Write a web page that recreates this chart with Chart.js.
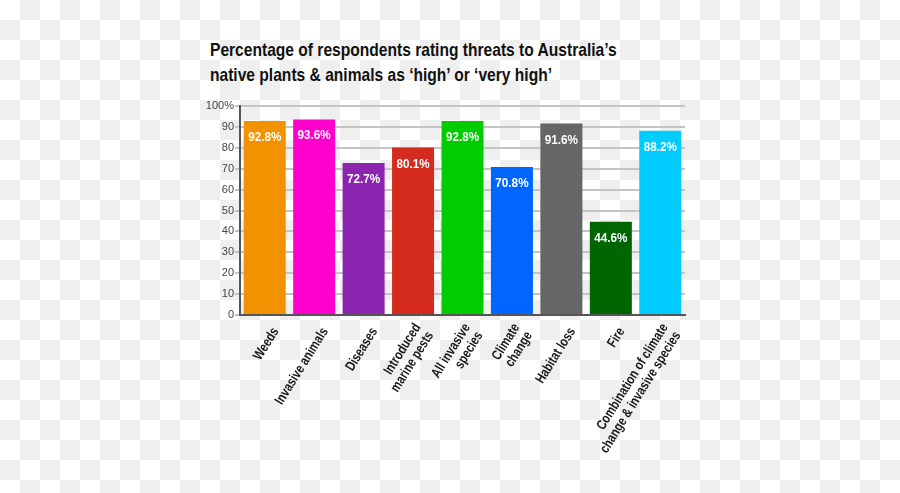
<!DOCTYPE html>
<html>
<head>
<meta charset="utf-8">
<script src="https://cdn.jsdelivr.net/npm/chart.js@4"></script>
<style>
  html, body { margin: 0; padding: 0; }
  body {
    width: 900px; height: 493px; overflow: hidden; position: relative;
    background: repeating-conic-gradient(#efefef 0 25%, #ffffff 0 50%) 0 0 / 40px 40px;
  }
  #title {
    position: absolute; left: 210px; top: 37px;
    font: bold 19px "Liberation Sans", Arial, sans-serif;
    line-height: 25px; color: #111; white-space: nowrap;
    transform: scaleX(0.82); transform-origin: 0 0;
  }
  #wrap { position: absolute; left: 0; top: 0; width: 900px; height: 493px; }
</style>
</head>
<body>
<div id="title">Percentage of respondents rating threats to Australia’s<br>native plants &amp; animals as ‘high’ or ‘very high’</div>
<div id="wrap"><canvas id="c" width="900" height="493"></canvas></div>
<script>
const categories = [
  "Weeds",
  "Invasive animals",
  "Diseases",
  ["Introduced", "marine pests"],
  ["All invasive", "species"],
  ["Climate", "change"],
  "Habitat loss",
  "Fire",
  ["Combination of climate", "change & invasive species"]
];
const values = [92.8, 93.6, 72.7, 80.1, 92.8, 70.8, 91.6, 44.6, 88.2];
const valueLabels = ["92.8%", "93.6%", "72.7%", "80.1%", "92.8%", "70.8%", "91.6%", "44.6%", "88.2%"];
const barColors = ["#f39200", "#ff00cc", "#8b24ae", "#d42b1e", "#00cc00", "#0066ff", "#666666", "#006600", "#00ccff"];
const yTicks = [0, 10, 20, 30, 40, 50, 60, 70, 80, 90, 100];

const barLabelPlugin = {
  id: 'barLabels',
  afterDatasetsDraw(chart) {
    const ctx = chart.ctx;
    const meta = chart.getDatasetMeta(0);
    meta.data.forEach((bar, i) => {
      ctx.save();
      ctx.fillStyle = '#ffffff';
      ctx.font = 'bold 13px "Liberation Sans", Arial, sans-serif';
      ctx.textAlign = 'center';
      ctx.textBaseline = 'top';
      ctx.translate(bar.x, bar.y + 10);
      ctx.scale(0.9, 1);
      ctx.fillText(valueLabels[i], 0, 0);
      ctx.restore();
    });
  }
};

// Draws the category labels of the x scale (condensed, rotated) at the scale's tick positions
const xLabelPlugin = {
  id: 'xLabels',
  afterDraw(chart) {
    const ctx = chart.ctx;
    const xs = chart.scales.x;
    const angle = -58 * Math.PI / 180;
    const lineH = 15;
    categories.forEach((lab, i) => {
      const lines = Array.isArray(lab) ? lab : [lab];
      const px = xs.getPixelForTick(i);
      ctx.save();
      ctx.fillStyle = '#1a1a1a';
      ctx.font = 'bold 14px "Liberation Sans", Arial, sans-serif';
      ctx.textAlign = 'right';
      ctx.textBaseline = 'middle';
      ctx.translate(px + 11, xs.top + 14);
      ctx.rotate(angle);
      lines.forEach((ln, j) => {
        const off = (j - (lines.length - 1) / 2) * lineH;
        ctx.save();
        ctx.translate(0, off);
        ctx.scale(0.79, 1);
        ctx.fillText(ln, 0, 0);
        ctx.restore();
      });
      ctx.restore();
    });
  }
};

new Chart(document.getElementById('c'), {
  type: 'bar',
  data: {
    labels: categories,
    datasets: [{
      data: values,
      backgroundColor: barColors,
      borderWidth: 0,
      barPercentage: 0.85,
      categoryPercentage: 1.0
    }]
  },
  options: {
    responsive: false,
    animation: false,
    events: [],
    layout: { padding: { left: 191, right: 215, top: 106, bottom: 0 } },
    plugins: { legend: { display: false }, tooltip: { enabled: false }, title: { display: false } },
    scales: {
      x: {
        afterFit(scale) { scale.height = 178; },
        grid: { display: false, drawTicks: false },
        border: { display: true, color: '#555555', width: 2 },
        ticks: { display: false }
      },
      y: {
        min: 0, max: 100,
        afterFit(scale) { scale.width = 49; },
        afterBuildTicks(scale) { scale.ticks = yTicks.map(v => ({ value: v })); },
        grid: { color: '#c4c4c4', lineWidth: 2, tickLength: 5, tickColor: '#c4c4c4' },
        border: { display: true, color: '#555555', width: 2 },
        ticks: {
          color: '#444444', padding: 1,
          font: { family: '"Liberation Sans", Arial, sans-serif', size: 11 },
          callback: v => v === 100 ? '100%' : String(v)
        }
      }
    }
  },
  plugins: [barLabelPlugin, xLabelPlugin]
});
</script>
</body>
</html>
